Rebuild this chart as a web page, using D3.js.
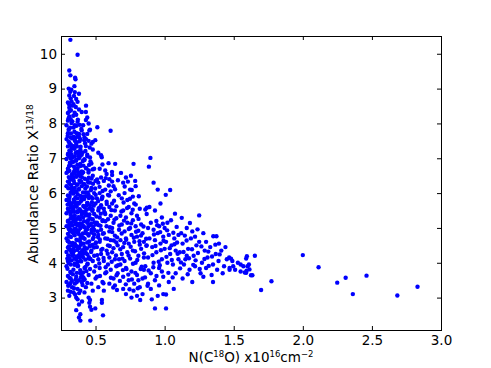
<!DOCTYPE html>
<html>
<head>
<meta charset="utf-8">
<script src="https://cdn.jsdelivr.net/npm/d3@7"></script>
<style>
  body { margin: 0; background: #fff; }
  svg { display: block; }
  text { font-family: 'DejaVu Sans', sans-serif; fill: #000; }
</style>
</head>
<body>
<svg id="chart" width="491" height="368"></svg>
<script>
// tick values
const xTicks = [0.5, 1.0, 1.5, 2.0, 2.5, 3.0]
const yTicks = [3, 4, 5, 6, 7, 8, 9, 10]
const xDomain = [0.25, 3.0]
const yDomain = [2.07, 10.51]

// points, grouped by column density range
const columnLeft = [
  [0.29,3.45],[0.30,3.62],[0.31,3.38],[0.32,3.71],[0.29,3.9],[0.30,4.05],[0.31,4.12],[0.32,3.95],[0.33,4.2],[0.29,4.31],
  [0.30,4.44],[0.31,4.58],[0.32,4.36],[0.33,4.5],[0.29,4.7],[0.30,4.83],[0.31,4.76],[0.32,4.95],[0.33,4.88],[0.29,5.05],
  [0.30,5.18],[0.31,5.1],[0.32,5.27],[0.33,5.33],[0.29,5.42],[0.30,5.55],[0.31,5.48],[0.32,5.63],[0.33,5.71],[0.29,5.8],
  [0.30,5.93],[0.31,5.86],[0.32,6.02],[0.33,6.1],[0.29,6.2],[0.30,6.33],[0.31,6.27],[0.32,6.4],[0.33,6.48],[0.29,6.58],
  [0.30,6.7],[0.31,6.64],[0.32,6.8],[0.33,6.9],[0.29,6.98],[0.30,7.1],[0.31,7.05],[0.32,7.2],[0.30,7.34],[0.31,7.45],
  [0.29,7.55],[0.32,7.6],[0.30,7.72],[0.31,7.85],[0.29,7.95],[0.30,8.08],[0.31,8.2],[0.32,8.12],[0.30,8.3],[0.31,8.45],
  [0.30,8.6],[0.32,8.72],[0.31,8.8],[0.30,3.2],[0.31,3.05],[0.33,3.3],[0.32,3.55],[0.30,4.62],[0.31,5.7],[0.32,7.4],
  [0.318,10.40],[0.370,9.97],[0.31,9.52],[0.318,9.38],[0.352,9.31],[0.355,9.27],[0.306,9.0],[0.347,9.07],[0.325,8.97],
  [0.318,3.41],[0.318,3.17]
]

const columnPeak = [
  [0.34,3.15],[0.35,3.4],[0.36,3.6],[0.37,3.25],[0.38,3.5],[0.39,3.7],[0.40,3.45],[0.34,3.8],[0.35,3.98],[0.36,4.1],
  [0.37,3.9],[0.38,4.22],[0.39,4.05],[0.40,4.3],[0.34,4.4],[0.35,4.55],[0.36,4.48],[0.37,4.65],[0.38,4.42],[0.39,4.6],
  [0.40,4.75],[0.34,4.85],[0.35,4.98],[0.36,4.9],[0.37,5.08],[0.38,4.82],[0.39,5.0],[0.40,5.12],[0.34,5.2],[0.35,5.35],
  [0.36,5.25],[0.37,5.45],[0.38,5.3],[0.39,5.5],[0.40,5.38],[0.34,5.6],[0.35,5.75],[0.36,5.65],[0.37,5.85],[0.38,5.7],
  [0.39,5.92],[0.40,5.8],[0.34,6.0],[0.35,6.15],[0.36,6.05],[0.37,6.25],[0.38,6.1],[0.39,6.32],[0.40,6.2],[0.34,6.45],
  [0.35,6.58],[0.36,6.5],[0.37,6.7],[0.38,6.55],[0.39,6.78],[0.40,6.62],[0.34,6.9],[0.35,7.05],[0.36,6.95],[0.37,7.18],
  [0.38,7.0],[0.39,7.25],[0.40,7.1],[0.34,7.35],[0.35,7.5],[0.36,7.42],[0.37,7.62],[0.38,7.7],[0.39,7.55],[0.40,7.8],
  [0.35,7.95],[0.37,8.05],[0.36,8.25],[0.38,8.4],[0.34,8.55],[0.36,8.7],[0.35,8.9],[0.37,8.62],[0.38,8.85],[0.36,3.0],
  [0.39,3.2],[0.37,2.95],[0.38,2.8],[0.36,2.64],[0.39,2.52],[0.38,2.43],[0.39,2.34],[0.402,2.89]
]

const columnPeakExtra = [
  [0.297,3.83],[0.336,3.67],[0.374,3.91],[0.412,3.58],[0.443,3.97],[0.318,3.74],[0.356,3.52],[0.389,3.79],[0.427,3.88],
  [0.305,3.99],[0.347,3.94],[0.365,3.71],[0.401,3.63],[0.433,3.76],
  [0.302,4.21],[0.327,4.07],[0.343,4.33],[0.361,4.18],[0.383,4.46],[0.396,4.04],[0.418,4.27],[0.437,4.41],[0.452,4.16],
  [0.311,4.39],[0.352,4.49],[0.371,4.02],[0.405,4.36],[0.426,4.09],[0.468,4.31],[0.489,4.44],[0.296,4.12],[0.338,4.24],
  [0.387,4.29],[0.459,4.47],
  [0.299,4.63],[0.315,4.91],[0.334,4.57],[0.349,4.79],[0.362,4.66],[0.378,4.93],[0.394,4.52],[0.408,4.84],[0.421,4.69],
  [0.439,4.96],[0.454,4.61],[0.471,4.87],[0.486,4.73],[0.503,4.58],[0.322,4.74],[0.357,4.98],[0.391,4.71],[0.414,4.55],
  [0.447,4.82],[0.478,4.51],[0.515,4.9],[0.531,4.67],
  [0.301,5.21],[0.319,5.38],[0.331,5.07],[0.345,5.46],[0.359,5.14],[0.376,5.31],[0.392,5.02],[0.404,5.43],[0.417,5.19],
  [0.431,5.36],[0.448,5.05],[0.462,5.27],[0.476,5.49],[0.493,5.16],[0.507,5.33],[0.524,5.08],[0.538,5.41],[0.309,5.01],
  [0.341,5.29],[0.368,5.48],[0.386,5.12],[0.423,5.47],[0.456,5.39],[0.483,5.03],[0.552,5.22],[0.566,5.44],
  [0.298,5.67],[0.313,5.92],[0.328,5.58],[0.342,5.81],[0.358,5.69],[0.371,5.97],[0.385,5.54],[0.399,5.83],[0.411,5.63],
  [0.428,5.91],[0.441,5.72],[0.457,5.56],[0.469,5.88],[0.487,5.64],[0.501,5.95],[0.519,5.77],[0.534,5.59],[0.548,5.86],
  [0.304,5.52],[0.337,5.99],[0.364,5.61],[0.393,5.76],[0.436,5.53],[0.474,5.74],
  [0.303,6.14],[0.317,6.38],[0.332,6.06],[0.346,6.29],[0.361,6.47],[0.379,6.12],[0.395,6.34],[0.409,6.02],[0.422,6.41],
  [0.438,6.19],[0.451,6.44],[0.466,6.08],[0.482,6.27],[0.497,6.13],[0.511,6.39],[0.324,6.23],[0.354,6.04],[0.388,6.49],
  [0.416,6.26],[0.444,6.01],
  [0.299,6.62],[0.314,6.87],[0.329,6.54],[0.344,6.76],[0.359,6.93],[0.373,6.61],[0.389,6.84],[0.403,6.57],[0.419,6.97],
  [0.434,6.71],[0.449,6.59],[0.463,6.91],[0.479,6.68],[0.321,6.99],[0.351,6.68],[0.381,6.52],[0.412,6.79],
  [0.301,7.13],[0.319,7.38],[0.333,7.02],[0.348,7.27],[0.363,7.46],[0.377,7.09],[0.392,7.33],[0.407,7.17],[0.424,7.43],
  [0.441,7.06],[0.458,7.31],[0.311,7.22],[0.356,7.15],[0.384,7.49],
  [0.298,7.64],[0.316,7.88],[0.331,7.57],[0.347,7.76],[0.362,7.93],[0.381,7.61],[0.397,7.84],[0.413,7.69],[0.431,7.55],
  [0.322,7.71],[0.354,7.58],
  [0.304,8.14],[0.322,8.38],[0.339,8.22],[0.357,8.47],[0.372,8.11],[0.326,8.63],[0.309,8.54],[0.344,8.79],[0.317,8.91],
  [0.332,8.06],
  [0.302,3.34],[0.329,3.48],[0.344,3.27],[0.363,3.44],[0.381,3.13],[0.406,3.36],[0.421,3.52],[0.311,3.57],[0.352,3.09],
  [0.394,3.58]
]

// fill-in for the solid core of the cloud
const columnCore = [
  [0.307,4.47],[0.326,4.29],[0.348,4.12],[0.367,4.37],[0.385,4.16],[0.403,4.21],[0.422,4.38],[0.441,4.24],[0.463,4.11],
  [0.306,4.97],[0.324,5.14],[0.339,4.93],[0.353,5.11],[0.372,4.86],[0.388,5.24],[0.411,5.06],[0.428,4.91],[0.446,5.22],
  [0.468,5.13],[0.491,4.94],[0.309,5.76],[0.323,5.46],[0.339,5.53],[0.355,5.88],[0.374,5.72],[0.396,5.47],[0.418,5.83],
  [0.433,5.64],[0.452,5.86],[0.479,5.52],[0.306,6.46],[0.327,6.16],[0.341,6.37],[0.366,6.24],[0.384,6.36],[0.401,6.46],
  [0.426,6.13],[0.447,6.31],[0.471,6.42],[0.308,6.78],[0.326,7.11],[0.342,6.61],[0.368,6.81],[0.386,7.04],[0.408,6.92],
  [0.427,7.21],[0.453,6.81],[0.305,7.48],[0.327,7.28],[0.343,7.62],[0.366,7.34],[0.389,7.18],[0.418,7.52],[0.305,7.82],
  [0.326,8.01],[0.341,7.88],[0.364,7.72],[0.386,7.96],[0.311,8.35],[0.333,8.51],[0.349,8.31]
]

const columnMid = [
  [0.41,3.5],[0.43,3.3],[0.45,3.65],[0.47,3.4],[0.49,3.75],[0.42,3.85],[0.44,3.95],[0.46,3.82],[0.48,4.05],[0.50,3.9],
  [0.41,4.15],[0.43,4.28],[0.45,4.12],[0.47,4.35],[0.49,4.2],[0.42,4.45],[0.44,4.58],[0.46,4.5],[0.48,4.68],[0.50,4.55],
  [0.41,4.72],[0.43,4.85],[0.45,4.78],[0.47,4.95],[0.49,4.82],[0.42,5.02],[0.44,5.15],[0.46,5.08],[0.48,5.25],[0.50,5.1],
  [0.41,5.3],[0.43,5.42],[0.45,5.35],[0.47,5.55],[0.49,5.4],[0.42,5.6],[0.44,5.72],[0.46,5.65],[0.48,5.85],[0.50,5.7],
  [0.41,5.9],[0.43,6.02],[0.45,5.95],[0.47,6.15],[0.49,6.0],[0.42,6.25],[0.44,6.38],[0.46,6.3],[0.48,6.5],[0.50,6.35],
  [0.41,6.6],[0.43,6.72],[0.45,6.65],[0.47,6.85],[0.49,6.7],[0.42,6.95],[0.44,7.1],[0.46,7.02],[0.48,7.25],[0.43,7.35],
  [0.45,7.5],[0.47,7.42],[0.44,7.7],[0.46,7.82],[0.42,7.6],[0.41,7.95],[0.43,8.1],[0.45,8.0],[0.43,8.33],[0.44,8.17],
  [0.40,8.33],[0.431,8.51],[0.455,7.8],[0.498,7.52],[0.48,7.47],[0.52,7.16],[0.45,3.0],[0.46,2.93],[0.455,2.85],
  [0.46,2.74],[0.47,2.65],[0.498,2.69],[0.462,2.34],[0.554,2.49],[0.546,2.93],[0.546,2.85],[0.42,3.15],[0.44,3.42],
  [0.48,3.2],[0.50,3.55],[0.41,3.72]
]

const columnShoulder = [
  [0.51,3.6],[0.53,3.85],[0.55,3.45],[0.57,3.7],[0.59,3.95],[0.61,3.8],[0.63,3.55],[0.65,3.9],[0.52,4.1],[0.54,4.25],
  [0.56,4.05],[0.58,4.35],[0.60,4.15],[0.62,4.3],[0.64,4.1],[0.51,4.45],[0.53,4.6],[0.55,4.4],[0.57,4.7],[0.59,4.5],
  [0.61,4.65],[0.63,4.42],[0.65,4.58],[0.52,4.8],[0.54,4.95],[0.56,4.85],[0.58,5.05],[0.60,4.9],[0.62,5.0],[0.64,4.78],
  [0.51,5.15],[0.53,5.3],[0.55,5.2],[0.57,5.4],[0.59,5.25],[0.61,5.35],[0.63,5.15],[0.65,5.28],[0.52,5.5],[0.54,5.65],
  [0.56,5.55],[0.58,5.75],[0.60,5.6],[0.62,5.7],[0.64,5.5],[0.51,5.85],[0.53,6.0],[0.55,5.9],[0.57,6.1],[0.59,5.95],
  [0.61,6.05],[0.63,6.2],[0.52,6.3],[0.54,6.45],[0.56,6.35],[0.58,6.55],[0.60,6.4],[0.62,6.52],[0.53,6.7],[0.55,6.82],
  [0.57,6.65],[0.54,7.09],[0.545,7.03],[0.594,6.86],[0.642,6.84],[0.609,7.79],[0.513,7.89],[0.52,3.3],[0.56,3.2],
  [0.60,3.4],[0.655,3.22],[0.64,3.35],[0.62,6.33]
]

const columnShoulderExtra = [
  [0.512,4.22],[0.527,3.98],[0.541,4.37],[0.558,4.14],[0.573,3.87],[0.588,4.26],[0.603,4.48],[0.617,4.03],[0.632,4.64],
  [0.648,4.21],[0.663,3.93],[0.679,4.39],[0.694,4.12],[0.708,4.57],[0.724,3.82],[0.739,4.21],[0.754,4.46],[0.771,3.97],
  [0.786,4.33],[0.802,4.08],[0.818,4.62],[0.834,3.89],[0.851,4.27],[0.868,4.49],[0.884,3.78],
  [0.518,4.74],[0.536,5.06],[0.553,4.83],[0.571,5.19],[0.586,4.69],[0.604,5.02],[0.621,4.88],[0.637,5.24],[0.656,4.73],
  [0.672,5.07],[0.689,4.84],[0.706,5.21],[0.722,4.66],[0.741,4.97],[0.758,5.13],[0.777,4.72],[0.793,4.89],[0.811,5.26],
  [0.829,4.78],[0.847,5.04],[0.866,4.69],
  [0.523,5.57],[0.544,5.83],[0.563,5.46],[0.581,5.69],[0.598,5.93],[0.615,5.51],[0.634,5.78],[0.651,5.62],[0.668,5.94],
  [0.687,5.47],[0.703,5.73],[0.728,5.57],[0.749,5.84],[0.769,5.52],[0.791,5.67],[0.813,5.91],
  [0.529,6.18],[0.551,6.06],[0.574,6.43],[0.596,6.22],[0.619,6.61],[0.641,6.11],[0.662,6.37],[0.684,6.58],[0.711,6.19],
  [0.734,6.33],[0.762,6.09],
  [0.532,3.62],[0.557,3.41],[0.578,3.73],[0.611,3.57],[0.628,3.29],[0.652,3.64],[0.676,3.48],[0.698,3.79],[0.719,3.38],
  [0.737,3.66],[0.763,3.52],[0.788,3.71],[0.806,3.27],[0.827,3.82],[0.858,3.58],[0.876,3.34]
]

const columnWide = [
  [0.66,3.7],[0.68,3.95],[0.70,3.6],[0.72,3.85],[0.74,3.5],[0.76,3.75],[0.78,3.4],[0.80,3.65],[0.82,3.3],[0.84,3.55],
  [0.67,4.1],[0.69,4.25],[0.71,4.05],[0.73,4.3],[0.75,4.12],[0.77,4.35],[0.79,4.0],[0.81,4.2],[0.83,4.4],[0.85,4.15],
  [0.66,4.5],[0.68,4.65],[0.70,4.45],[0.72,4.7],[0.74,4.55],[0.76,4.8],[0.78,4.6],[0.80,4.75],[0.82,4.52],[0.84,4.85],
  [0.67,4.95],[0.69,5.1],[0.71,4.9],[0.73,5.15],[0.75,5.0],[0.77,5.22],[0.79,5.05],[0.81,4.92],[0.83,5.1],[0.68,5.35],
  [0.70,5.5],[0.72,5.3],[0.74,5.6],[0.76,5.42],[0.78,5.7],[0.80,5.35],[0.82,5.55],[0.69,5.85],[0.71,6.0],[0.73,5.8],
  [0.75,6.1],[0.77,5.9],[0.79,6.2],[0.70,6.3],[0.72,6.45],[0.756,6.5],[0.787,6.35],[0.775,6.84],[0.746,3.24],
  [0.775,3.2],[0.70,3.25],[0.72,3.1],[0.80,3.05],[0.823,2.93],[0.84,3.1],[0.76,3.0],[0.81,3.5],[0.85,3.8],[0.85,4.6]
]

const columnTail = [
  [0.86,3.9],[0.88,4.15],[0.90,3.7],[0.92,4.0],[0.94,4.3],[0.96,3.85],[0.98,4.1],[1.00,4.4],[1.02,4.0],[1.04,4.25],
  [1.06,3.95],[1.08,4.35],[0.87,4.5],[0.89,4.7],[0.91,4.45],[0.93,4.65],[0.95,4.85],[0.97,4.55],[0.99,4.75],[1.01,4.6],
  [1.03,4.8],[1.05,4.5],[1.07,4.7],[1.09,4.58],[0.88,5.0],[0.90,5.15],[0.92,4.95],[0.94,5.2],[0.96,5.05],[0.98,5.3],
  [1.00,5.0],[1.02,5.15],[0.87,5.4],[0.89,5.6],[0.93,5.5],[0.97,5.7],[0.871,5.58],[0.86,5.53],[1.04,6.09],[1.008,5.95],
  [0.897,7.01],[0.886,6.76],[0.92,6.3],[0.95,6.1],[0.88,3.4],[0.90,3.25],[0.93,3.5],[0.96,3.35],[0.99,3.6],[1.03,3.45],
  [1.066,3.25],[0.99,3.1],[1.01,3.09],[0.93,2.69],[1.01,2.69],[0.907,2.95],[0.95,3.05],[0.98,3.75],[1.08,3.7],[1.1,4.1],
  [0.912,4.22],[0.934,4.48],[0.957,4.03],[0.973,4.36],[0.992,4.63],[1.013,4.17],[1.037,4.42],[1.052,4.08],[1.071,4.53],
  [1.094,4.26],[0.923,4.81],[0.946,5.08],[0.968,4.88],[0.987,5.12],[1.018,4.93],[1.046,5.22],[1.063,4.86],[1.087,5.03],
  [0.918,3.87],[0.941,3.62],[0.965,3.93],[1.027,3.71],[1.058,3.58]
]

const columnFar = [
  [1.11,4.3],[1.13,4.55],[1.15,4.1],[1.17,4.4],[1.19,4.7],[1.21,4.2],[1.23,4.5],[1.25,4.6],[1.27,4.0],[1.29,4.35],
  [1.31,4.15],[1.33,4.45],[1.35,3.95],[1.37,4.25],[1.39,4.05],[1.41,4.35],[1.43,3.9],[1.45,4.1],[1.47,3.85],[1.49,4.05],
  [1.51,3.8],[1.53,4.0],[1.55,3.75],[1.57,3.9],[1.12,4.85],[1.16,5.0],[1.2,4.9],[1.124,5.29],[1.075,5.41],[1.25,5.36],
  [1.14,3.95],[1.18,3.8],[1.22,3.9],[1.26,3.7],[1.3,3.85],[1.34,3.65],[1.38,3.8],[1.42,3.7],[1.13,3.55],[1.2,3.45],
  [1.28,3.6],[1.352,4.76],[1.375,4.76],[1.393,4.55],[1.467,4.15],[1.48,4.12],[1.496,3.9],[1.47,3.8],[1.593,3.77],
  [1.3,4.6],[1.22,4.75],[1.16,4.2],[1.44,4.45],[1.1,4.8],[1.28,4.85],[1.35,3.45],[1.55,3.95],[1.58,3.72],[1.653,4.2],
  [1.595,4.19],[1.59,4.12],[1.614,3.81],[1.59,3.71],[1.635,3.64],[1.625,3.64],[1.61,3.95],[1.6,3.9],[1.698,3.22],
  [1.773,3.47],[2.0,4.22],[2.114,3.87],[2.249,3.43],[2.31,3.57],[2.362,3.1],[2.461,3.63],[2.684,3.06],[2.83,3.31],
  [1.118,4.01],[1.137,4.31],[1.159,4.64],[1.176,4.13],[1.198,4.39],[1.224,4.07],[1.241,4.28],[1.266,4.47],[1.288,4.11],
  [1.316,4.32],[1.343,4.18],[1.367,4.52],[1.398,4.24],[1.146,4.78],[1.183,5.14],[1.238,4.96],[1.112,3.84],[1.167,3.67],
  [1.207,3.94],[1.254,3.82],[1.319,3.91]
]

const points = [].concat(columnLeft, columnPeak, columnPeakExtra, columnCore, columnMid, columnShoulder,
  columnShoulderExtra, columnWide, columnTail, columnFar)

const svg = d3.select('#chart')
const margin = { left: 61, right: 50, top: 36, bottom: 38 }
const width = 491
const height = 368
const plotW = width - margin.left - margin.right
const plotH = height - margin.top - margin.bottom

const x = d3.scaleLinear().domain(xDomain).range([margin.left, margin.left + plotW])
const y = d3.scaleLinear().domain(yDomain).range([margin.top + plotH, margin.top])

svg.append('rect').attr('width', width).attr('height', height).attr('fill', '#fff')

// points first, frame drawn on top
svg.append('g')
  .selectAll('circle')
  .data(points)
  .join('circle')
  .attr('cx', d => x(d[0]))
  .attr('cy', d => y(d[1]))
  .attr('r', 2.2)
  .attr('fill', '#0000ff')

// ticks point inward on all four sides (matplotlib classic look)
const tickLen = 4
const bottomAxis = d3.axisBottom(x).tickValues(xTicks).tickFormat(d3.format('.1f'))
  .tickSizeInner(-tickLen).tickSizeOuter(0).tickPadding(5)
const topAxis = d3.axisTop(x).tickValues(xTicks).tickFormat('').tickSizeInner(-tickLen).tickSizeOuter(0)
const leftAxis = d3.axisLeft(y).tickValues(yTicks).tickFormat(d3.format('d'))
  .tickSizeInner(-tickLen).tickSizeOuter(0).tickPadding(4)
const rightAxis = d3.axisRight(y).tickValues(yTicks).tickFormat('').tickSizeInner(-tickLen).tickSizeOuter(0)

function styleAxis(g) {
  g.select('.domain').remove()
  g.selectAll('.tick line').attr('stroke', '#000')
  g.selectAll('.tick text').attr('font-size', 13.5).attr('font-family', "'DejaVu Sans', sans-serif")
}

svg.append('g').attr('transform', `translate(0,${margin.top + plotH})`).call(bottomAxis).call(styleAxis)
svg.append('g').attr('transform', `translate(0,${margin.top})`).call(topAxis).call(styleAxis)
svg.append('g').attr('transform', `translate(${margin.left},0)`).call(leftAxis).call(styleAxis)
svg.append('g').attr('transform', `translate(${margin.left + plotW},0)`).call(rightAxis).call(styleAxis)

svg.append('rect')
  .attr('x', margin.left + 0.5)
  .attr('y', margin.top + 0.5)
  .attr('width', plotW)
  .attr('height', plotH)
  .attr('fill', 'none')
  .attr('stroke', '#000')
  .attr('stroke-width', 1)

// x label with superscripts
const xLabel = svg.append('text')
  .attr('x', margin.left + plotW / 2)
  .attr('y', 362)
  .attr('text-anchor', 'middle')
  .attr('font-size', 13.5)
xLabel.append('tspan').text('N(C')
xLabel.append('tspan').attr('font-size', 8.5).attr('dy', -5).text('18')
xLabel.append('tspan').attr('dy', 5).text('O) x10')
xLabel.append('tspan').attr('font-size', 8.5).attr('dy', -5).text('16')
xLabel.append('tspan').attr('dy', 5).text('cm')
xLabel.append('tspan').attr('font-size', 8.5).attr('dy', -5).text('\u22122')

// y label, rotated
const yLabel = svg.append('text')
  .attr('transform', `translate(38,${margin.top + plotH / 2 + 1}) rotate(-90)`)
  .attr('text-anchor', 'middle')
  .attr('font-size', 14)
yLabel.append('tspan').text('Abundance Ratio X')
yLabel.append('tspan').attr('font-size', 9).attr('dy', -5).text('13/18')
</script>
</body>
</html>
